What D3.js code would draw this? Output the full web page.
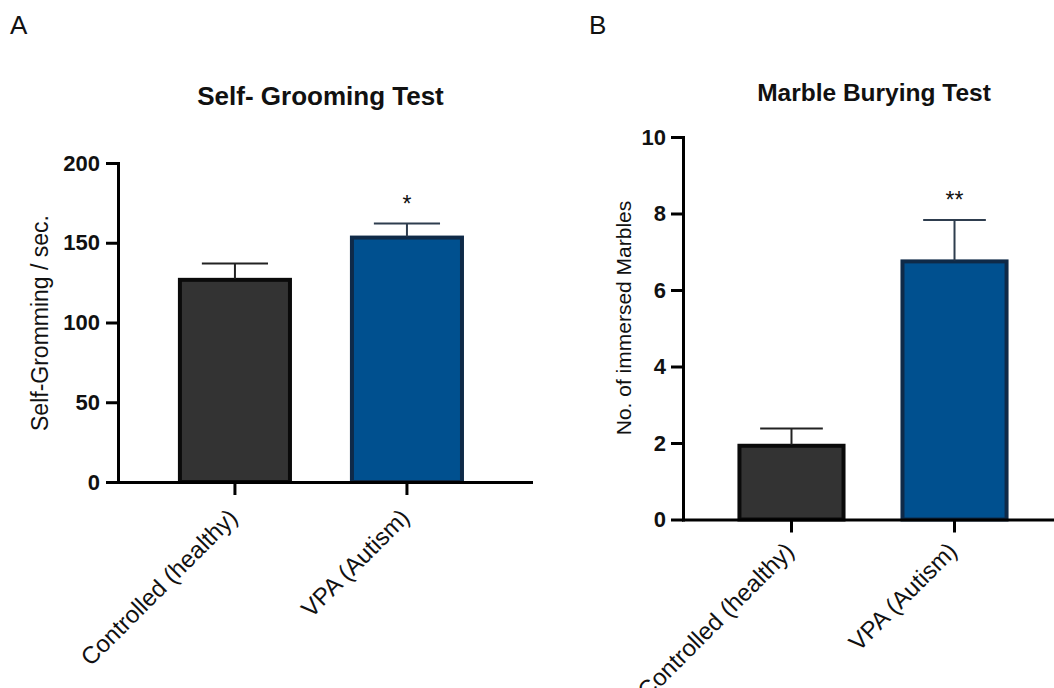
<!DOCTYPE html>
<html>
<head>
<meta charset="utf-8">
<script src="https://cdn.jsdelivr.net/npm/d3@7"></script>
<style>
  body { margin: 0; background: #ffffff; }
  text { font-family: "Liberation Sans", Arial, sans-serif; fill: #111111; }
</style>
</head>
<body>
<div id="figure"></div>
<script>
// Data
var groups = ["Controlled (healthy)", "VPA (Autism)"];

// Panel A - self-grooming (sec)
var groomMean = [128, 154.5];
var groomErr = [9, 7.5];
var groomStars = ["", "*"];
var groomTicks = [0, 50, 100, 150, 200];

// Panel B - marble burying (count)
var marbleMean = [1.98, 6.8];
var marbleErr = [0.4, 1.03];
var marbleStars = ["", "**"];
var marbleTicks = [0, 2, 4, 6, 8, 10];

var barFill = ["#333333", "#00508f"];
var barStroke = ["#0a0a0a", "#0f2a48"];
var errColor = ["#222222", "#2e3d4e"];

// SVG area
var svgWidth = 1054;
var svgHeight = 688;

var svg = d3.select("#figure")
  .append("svg")
  .attr("width", svgWidth)
  .attr("height", svgHeight);

function drawPanel(p) {
  var g = svg.append("g");

  // panel letter
  g.append("text")
    .attr("x", p.letterX)
    .attr("y", 34)
    .attr("font-size", "26px")
    .text(p.letter);

  var xScale = d3.scaleBand()
    .domain(groups)
    .range(p.xRange)
    .paddingInner(0.337)
    .paddingOuter(p.padOuter)
    .align(p.align);

  var yScale = d3.scaleLinear()
    .domain([0, d3.max(p.ticks)])
    .range(p.yRange);

  // title
  g.append("text")
    .attr("x", p.titleX)
    .attr("y", p.titleY)
    .attr("text-anchor", "middle")
    .attr("font-size", p.titleSize)
    .attr("font-weight", "bold")
    .text(p.title);

  var rows = groups.map(function(c, i) {
    return { cat: c, mean: p.mean[i], err: p.err[i], star: p.stars[i], i: i };
  });

  // bars (stroke kept inside the band)
  var sw = 4;
  g.selectAll(".bar")
    .data(rows)
    .enter()
    .append("rect")
    .attr("x", d => xScale(d.cat) + sw / 2)
    .attr("y", d => yScale(d.mean) + sw / 2)
    .attr("width", xScale.bandwidth() - sw)
    .attr("height", d => yScale(0) - yScale(d.mean) - sw / 2)
    .attr("fill", d => barFill[d.i])
    .attr("stroke", d => barStroke[d.i])
    .attr("stroke-width", sw);

  // error bars, upper half only
  var capHalf = xScale.bandwidth() * 0.29;
  rows.forEach(function(d) {
    var cx = xScale(d.cat) + xScale.bandwidth() / 2;
    g.append("line")
      .attr("x1", cx).attr("x2", cx)
      .attr("y1", yScale(d.mean) + 1)
      .attr("y2", yScale(d.mean + d.err))
      .attr("stroke", errColor[d.i])
      .attr("stroke-width", 2);
    g.append("line")
      .attr("x1", cx - capHalf).attr("x2", cx + capHalf)
      .attr("y1", yScale(d.mean + d.err))
      .attr("y2", yScale(d.mean + d.err))
      .attr("stroke", errColor[d.i])
      .attr("stroke-width", 2);
    if (d.star) {
      g.append("text")
        .attr("x", cx)
        .attr("y", yScale(d.mean + d.err) - 12)
        .attr("text-anchor", "middle")
        .attr("font-size", "23px")
        .text(d.star);
    }
  });

  // axes
  var leftAxis = d3.axisLeft(yScale)
    .tickValues(p.ticks)
    .tickSize(12)
    .tickSizeOuter(0)
    .tickPadding(p.tickPad);

  var bottomAxis = d3.axisBottom(xScale)
    .tickSize(13)
    .tickSizeOuter(0)
    .tickFormat("");

  var yAxisG = g.append("g")
    .attr("transform", `translate(${p.xRange[0]}, 0)`)
    .call(leftAxis);

  var xAxisG = g.append("g")
    .attr("transform", `translate(0, ${yScale(0)})`)
    .call(bottomAxis);

  [yAxisG, xAxisG].forEach(function(a) {
    a.select(".domain").attr("stroke", "#000").attr("stroke-width", 3).attr("stroke-linecap", "square");
    a.selectAll(".tick line").attr("stroke", "#000").attr("stroke-width", 3);
  });

  yAxisG.selectAll(".tick text")
    .attr("font-family", "Liberation Sans, Arial, sans-serif")
    .attr("font-size", "22px")
    .attr("font-weight", "bold")
    .attr("fill", "#111");

  // rotated category labels
  groups.forEach(function(c) {
    var tx = xScale(c) + xScale.bandwidth() / 2 + 4;
    var ty = yScale(0) + p.labelDrop;
    g.append("text")
      .attr("transform", `translate(${tx}, ${ty}) rotate(-45)`)
      .attr("text-anchor", "end")
      .attr("font-size", "24px")
      .text(c);
  });

  // y axis title
  g.append("text")
    .attr("transform", `translate(${p.yLabelX}, ${p.yLabelY}) rotate(-90)`)
    .attr("text-anchor", "middle")
    .attr("font-size", p.yLabelSize)
    .text(p.yLabel);
}

drawPanel({
  letter: "A", letterX: 10,
  title: "Self- Grooming Test", titleX: 320.5, titleY: 105, titleSize: "26px",
  mean: groomMean, err: groomErr, stars: groomStars, ticks: groomTicks,
  xRange: [118, 531], padOuter: 0.369, align: 0.472,
  yRange: [482, 163], tickPad: 6, labelDrop: 37,
  yLabel: "Self-Gromming / sec.", yLabelX: 48, yLabelY: 323, yLabelSize: "23px"
});

drawPanel({
  letter: "B", letterX: 589,
  title: "Marble Burying Test", titleX: 874, titleY: 101, titleSize: "24.5px",
  mean: marbleMean, err: marbleErr, stars: marbleStars, ticks: marbleTicks,
  xRange: [683, 1063], padOuter: 0.334, align: 0.5,
  yRange: [519.5, 137], tickPad: 5, labelDrop: 33,
  yLabel: "No. of immersed Marbles", yLabelX: 631, yLabelY: 318, yLabelSize: "21px"
});
</script>
</body>
</html>
